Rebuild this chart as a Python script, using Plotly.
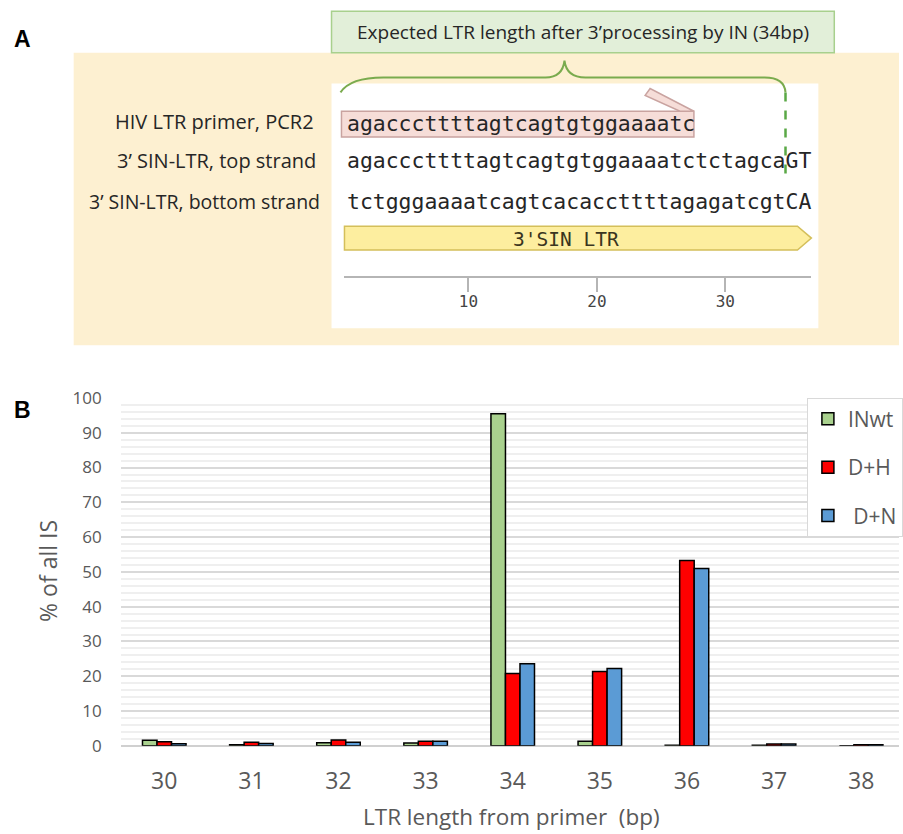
import plotly.graph_objects as go

W, H = 903, 834

# ---- panel B: integration-site LTR length distribution ----
lengths = [30, 31, 32, 33, 34, 35, 36, 37, 38]
in_wt = [1.6, 0.3, 0.9, 0.8, 95.5, 1.3, 0.2, 0.2, 0.0]
d_h = [1.2, 1.0, 1.7, 1.3, 20.8, 21.4, 53.3, 0.5, 0.3]
d_n = [0.6, 0.7, 1.0, 1.3, 23.6, 22.2, 51.0, 0.5, 0.3]
series_names = ["INwt", "D+H", "\u00a0D+N"]
series_colors = ["#a9d18e", "#ff0000", "#5b9bd5"]
y_ticks = list(range(0, 101, 10))

# ---- panel A: LTR end sequence map ----
primer_seq = "agacccttttagtcagtgtggaaaatc"
top_strand = "agacccttttagtcagtgtggaaaatctctagcaGT"
bottom_strand = "tctgggaaaatcagtcacaccttttagagatcgtCA"
row_labels = ["HIV LTR primer, PCR2", "3\u2019 SIN-LTR, top strand", "3\u2019 SIN-LTR, bottom strand"]
ruler_ticks = [10, 20, 30]
feature_label = "3'SIN LTR"
header_text = "Expected LTR length after 3\u2019processing by IN (34bp)"

SANS = "Open Sans, sans-serif"
MONO = "DejaVu Sans Mono, monospace"
GREY_TXT = "#595959"
DARK_TXT = "#262626"

# page layout: the figure sits 8 px below the page top and the page is shown 850 -> 834 tall
PAGE_TOP = 8.0
V_SCALE = H / (H + 2 * PAGE_TOP)


def fx(x):
    return x / W


def fy(y):
    y_fig = (y - PAGE_TOP * V_SCALE) / V_SCALE
    return 1 - y_fig / H


def poly(points):
    d = "M " + " L ".join(f"{fx(x):.5f},{fy(y):.5f}" for x, y in points) + " Z"
    return d


fig = go.Figure()

for name, color, vals in zip(series_names, series_colors, [in_wt, d_h, d_n]):
    fig.add_trace(go.Bar(
        x=lengths, y=vals, name=name, legendgroup=name,
        marker=dict(color=color, line=dict(color="black", width=1.5)),
        xaxis="x", yaxis="y",
    ))

# empty trace so the ruler axis gets its own subplot
fig.add_trace(go.Scatter(x=[], y=[], xaxis="x3", yaxis="y3", showlegend=False, hoverinfo="skip"))

# sequence character geometry: position i (1-based) centred at 348 + (i-0.5)*12.9 px
char_w = 12.9
seq_left = 348.0
rl_left, rl_right = 346.0, 815.0
r0 = 0.5 + (rl_left - seq_left) / char_w
r1 = 0.5 + (rl_right - seq_left) / char_w

cat_w = 87.5
plot_left = 121.25

shapes = [
    # beige backdrop
    dict(type="rect", xref="paper", yref="paper", x0=fx(74), x1=fx(903), y0=fy(344), y1=fy(49),
         fillcolor="#fdf0d1", line=dict(width=0), layer="below"),
    # white map panel
    dict(type="rect", xref="paper", yref="paper", x0=fx(333), x1=fx(822), y0=fy(327), y1=fy(80),
         fillcolor="white", line=dict(width=0), layer="below"),
    # header box
    dict(type="rect", xref="paper", yref="paper", x0=fx(333), x1=fx(838), y0=fy(49), y1=fy(7),
         fillcolor="#e2efd9", line=dict(color="#a8d08d", width=1.5), layer="below"),
    # primer box
    dict(type="rect", xref="paper", yref="paper", x0=fx(343), x1=fx(697), y0=fy(134), y1=fy(108),
         fillcolor="#f6ddd8", line=dict(color="#c9a3a0", width=1.5), layer="below"),
    # primer half-arrow flag
    dict(type="path", xref="paper", yref="paper",
         path=poly([(648, 92), (653, 85), (697, 108), (683, 108)]),
         fillcolor="#f6ddd8", line=dict(color="#c9a3a0", width=1.5), layer="below"),
    # feature arrow
    dict(type="path", xref="paper", yref="paper",
         path=poly([(346, 224), (801, 224), (815, 236), (801, 248), (346, 248)]),
         fillcolor="#fdee9f", line=dict(color="#d4bf5a", width=1.5), layer="below"),
    # curly brace
    dict(type="path", xref="paper", yref="paper",
         path=(f"M {fx(342)},{fy(89)} Q {fx(352)},{fy(74)} {fx(385)},{fy(74)} "
               f"L {fx(548)},{fy(74)} Q {fx(565)},{fy(74)} {fx(567)},{fy(57)} "
               f"Q {fx(569)},{fy(74)} {fx(588)},{fy(74)} "
               f"L {fx(768)},{fy(74)} Q {fx(788)},{fy(74)} {fx(789)},{fy(89)}"),
         line=dict(color="#7aab4e", width=2)),
    # cleavage-site marker
    dict(type="line", xref="paper", yref="paper", x0=fx(789), x1=fx(789), y0=fy(89), y1=fy(173),
         line=dict(color="#5aa846", width=2.5, dash="dash")),
]

annotations = [
    dict(text="<b>A</b>", x=fx(23), y=fy(35), font=dict(family="Liberation Sans, Arial", size=23, color="black")),
    dict(text="<b>B</b>", x=fx(22.5), y=fy(409), font=dict(family="Liberation Sans, Arial", size=23, color="black")),
    dict(text=header_text, x=fx(586), y=fy(28), font=dict(family=SANS, size=19, color=DARK_TXT)),
    dict(text=row_labels[0], x=fx(316), y=fy(118), xanchor="right", font=dict(family=SANS, size=20, color=DARK_TXT)),
    dict(text=row_labels[1], x=fx(318), y=fy(158), xanchor="right", font=dict(family=SANS, size=20, color=DARK_TXT)),
    dict(text=row_labels[2], x=fx(322), y=fy(199), xanchor="right", font=dict(family=SANS, size=19.5, color=DARK_TXT)),
    dict(text=primer_seq, x=fx(seq_left), y=fy(120), xanchor="left", font=dict(family=MONO, size=21.43, color=DARK_TXT)),
    dict(text=top_strand, x=fx(seq_left), y=fy(158), xanchor="left", font=dict(family=MONO, size=21.43, color=DARK_TXT)),
    dict(text=bottom_strand, x=fx(seq_left), y=fy(199), xanchor="left", font=dict(family=MONO, size=21.43, color=DARK_TXT)),
    dict(text=feature_label, x=fx(569), y=fy(237), font=dict(family=MONO, size=19.5, color="#3a3520")),
    dict(text="LTR length from primer  (bp)", x=fx(514), y=fy(820), font=dict(family=SANS, size=22.5, color=GREY_TXT)),
    dict(text="% of all IS", x=fx(48), y=fy(572), textangle=-90, font=dict(family=SANS, size=23, color=GREY_TXT)),
]
for a in annotations:
    a.setdefault("xref", "paper")
    a.setdefault("yref", "paper")
    a.setdefault("showarrow", False)
    a.setdefault("xanchor", "center")
    a.setdefault("yanchor", "middle")
    a["borderpad"] = 0

fig.update_layout(
    width=W, height=H,
    margin=dict(l=0, r=0, t=0, b=0),
    paper_bgcolor="white", plot_bgcolor="white",
    barmode="group", bargap=0.5, bargroupgap=0,
    shapes=shapes, annotations=annotations,
    showlegend=True,
    legend=dict(
        x=fx(810.5), y=fy(397), xanchor="left", yanchor="top",
        bgcolor="white", bordercolor="#d9d9d9", borderwidth=1,
        font=dict(family=SANS, size=21, color=GREY_TXT),
        tracegroupgap=18, itemwidth=30,
    ),
    xaxis=dict(
        domain=[fx(plot_left), 1],
        range=[29.5, 29.5 + (W - plot_left) / cat_w],
        tickvals=lengths, ticktext=[str(v) for v in lengths],
        showgrid=False, zeroline=False, showline=False, ticks="",
        tickfont=dict(family=SANS, size=23, color=GREY_TXT),
        ticklabelstandoff=19, anchor="y", fixedrange=True,
    ),
    yaxis=dict(
        domain=[fy(748.3), fy(397.3)],
        range=[0, 100], tickvals=y_ticks,
        showgrid=True, gridcolor="#d9d9d9", gridwidth=2,
        minor=dict(dtick=2, showgrid=True, gridcolor="#efefef", gridwidth=2, ticks=""),
        zeroline=True, zerolinecolor="#d0d0d0", zerolinewidth=2,
        showline=False, ticks="",
        tickfont=dict(family=SANS, size=17, color=GREY_TXT),
        ticklabelstandoff=18, anchor="x", fixedrange=True,
    ),
    xaxis3=dict(
        domain=[fx(rl_left), fx(rl_right)], range=[r0, r1], anchor="y3",
        tickvals=ruler_ticks, ticks="outside", ticklen=14, tickwidth=2, tickcolor="#b5b5b5",
        showline=True, linecolor="#b5b5b5", linewidth=2,
        showgrid=False, zeroline=False, ticklabelstandoff=-4,
        tickfont=dict(family=MONO, size=16, color="#444444"), fixedrange=True,
    ),
    yaxis3=dict(
        domain=[fy(274), fy(270)], anchor="x3", visible=False, range=[0, 1], fixedrange=True,
    ),
)

fig.write_html("out.html")
